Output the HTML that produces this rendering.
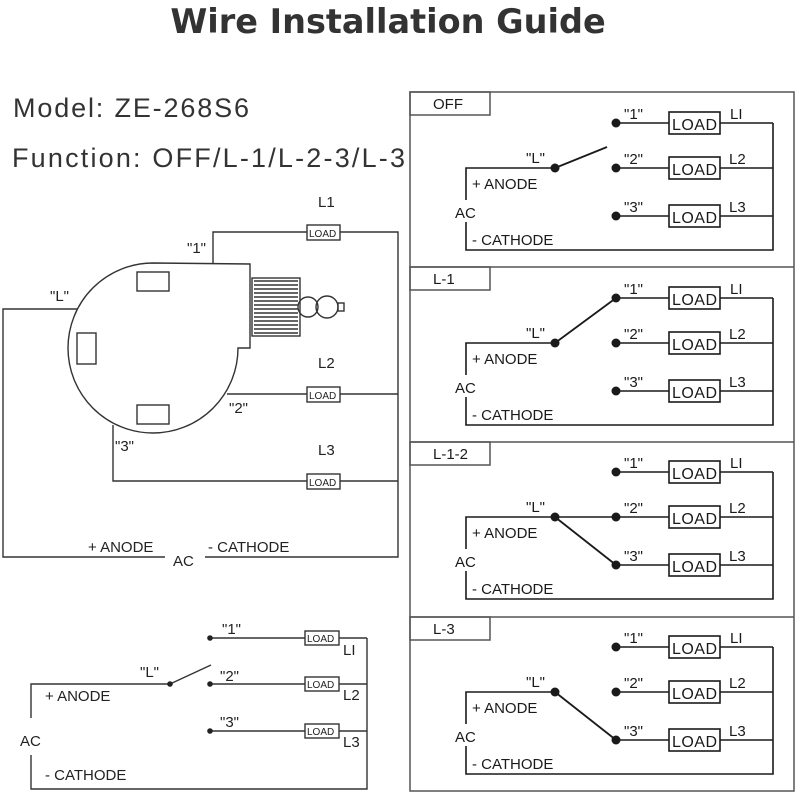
<!DOCTYPE html>
<html><head><meta charset="utf-8"><style>
html,body{margin:0;padding:0;background:#fff;}
svg{display:block;font-family:"Liberation Sans",sans-serif;}
</style></head><body>
<svg width="800" height="800" viewBox="0 0 800 800" xmlns="http://www.w3.org/2000/svg">
<defs>
<g id="panel" stroke="#1a1a1a" fill="none" stroke-width="1.6">
  <line x1="616" y1="123" x2="669" y2="123"/><line x1="616" y1="168" x2="669" y2="168"/><line x1="616" y1="216" x2="669" y2="216"/>
  <line x1="720" y1="123" x2="773" y2="123"/><line x1="720" y1="168" x2="773" y2="168"/><line x1="720" y1="216" x2="773" y2="216"/>
  <rect x="669" y="112" width="51" height="22"/><rect x="669" y="157" width="51" height="22"/><rect x="669" y="205" width="51" height="22"/>
  <polyline points="773,123 773,250 466,250 466,222"/>
  <polyline points="466,200 466,168 555,168"/>
  <g fill="#1a1a1a" stroke="none"><circle cx="616" cy="123" r="4.5"/><circle cx="616" cy="168" r="4.5"/><circle cx="616" cy="216" r="4.5"/><circle cx="555" cy="168" r="4.5"/></g>
  <g fill="#1a1a1a" stroke="none" font-size="16">
    <text x="672" y="130" textLength="45">LOAD</text><text x="672" y="175" textLength="45">LOAD</text><text x="672" y="223" textLength="45">LOAD</text>
    <text x="730" y="119" font-size="15">LI</text><text x="729" y="164" font-size="15">L2</text><text x="729" y="212" font-size="15">L3</text>
    <text x="624" y="119" font-size="15">"1"</text><text x="624" y="164" font-size="15">"2"</text><text x="624" y="212" font-size="15">"3"</text>
    <text x="526" y="163" font-size="15">"L"</text>
    <text x="472" y="189" font-size="15">+ ANODE</text><text x="455" y="218" font-size="15">AC</text><text x="472" y="245" font-size="15">- CATHODE</text>
  </g>
</g>
</defs>
<text x="388" y="33" text-anchor="middle" font-size="33.5" font-weight="bold" fill="#333" font-family="'DejaVu Sans',sans-serif">Wire Installation Guide</text>
<text x="13" y="117" font-size="27" fill="#333" textLength="236">Model: ZE-268S6</text>
<text x="12" y="167" font-size="27" fill="#333" textLength="393">Function: OFF/L-1/L-2-3/L-3</text>

<g stroke="#555" fill="none" stroke-width="1.5">
<rect x="410" y="92" width="384" height="699"/>
<line x1="410" y1="267" x2="794" y2="267"/><line x1="410" y1="442" x2="794" y2="442"/><line x1="410" y1="617" x2="794" y2="617"/>
<rect x="410" y="92" width="80" height="23"/><rect x="410" y="267" width="80" height="23"/><rect x="410" y="442" width="80" height="23"/><rect x="410" y="617" width="80" height="23"/>
</g>
<g font-size="15" fill="#1a1a1a"><text x="433" y="109">OFF</text><text x="433" y="284">L-1</text><text x="433" y="459">L-1-2</text><text x="433" y="634">L-3</text></g>

<use href="#panel"/>
<line x1="555" y1="168" x2="607" y2="147" stroke="#1a1a1a" stroke-width="1.8"/>
<g transform="translate(0,175)"><use href="#panel"/><line x1="555" y1="168" x2="616" y2="123" stroke="#1a1a1a" stroke-width="1.8"/></g>
<g transform="translate(0,349)"><use href="#panel"/><line x1="555" y1="168" x2="616" y2="216" stroke="#1a1a1a" stroke-width="1.8"/><line x1="555" y1="168" x2="616" y2="168" stroke="#1a1a1a" stroke-width="1.6"/></g>
<g transform="translate(0,524)"><use href="#panel"/><line x1="555" y1="168" x2="616" y2="216" stroke="#1a1a1a" stroke-width="1.8"/></g>

<g stroke="#333" fill="none" stroke-width="1.4">
<path d="M153,263 L250,264 L250,348 L238,348 A85,85 0 1,1 153,263"/>
<rect x="137" y="272" width="32" height="19"/><rect x="77" y="333" width="19" height="31"/><rect x="137" y="405" width="32" height="19"/>
<rect x="252" y="278" width="48" height="58"/>
<circle cx="308" cy="307" r="10"/><circle cx="327" cy="307" r="11"/><rect x="338" y="303" width="6" height="8"/>
<polyline points="213,264 213,232 307,232"/><polyline points="340,232 398,232 398,557 205,557"/>
<rect x="307" y="225" width="33" height="15"/>
<line x1="227" y1="394" x2="307" y2="394"/><line x1="340" y1="394" x2="398" y2="394"/><rect x="307" y="387" width="33" height="15"/>
<polyline points="113,425 113,481 307,481"/><line x1="340" y1="481" x2="398" y2="481"/><rect x="307" y="474" width="33" height="15"/>
<polyline points="78,309 3,309 3,557 165,557"/>
</g>
<g stroke="#333" stroke-width="1.6">
<line x1="254" y1="281" x2="298" y2="281"/><line x1="254" y1="285" x2="298" y2="285"/><line x1="254" y1="289" x2="298" y2="289"/><line x1="254" y1="293" x2="298" y2="293"/><line x1="254" y1="297" x2="298" y2="297"/><line x1="254" y1="301" x2="298" y2="301"/><line x1="254" y1="305" x2="298" y2="305"/><line x1="254" y1="309" x2="298" y2="309"/><line x1="254" y1="313" x2="298" y2="313"/><line x1="254" y1="317" x2="298" y2="317"/><line x1="254" y1="321" x2="298" y2="321"/><line x1="254" y1="325" x2="298" y2="325"/><line x1="254" y1="329" x2="298" y2="329"/><line x1="254" y1="333" x2="298" y2="333"/>
</g>
<g fill="#222" font-size="15">
<text x="309" y="237" font-size="10">LOAD</text><text x="309" y="399" font-size="10">LOAD</text><text x="309" y="486" font-size="10">LOAD</text>
<text x="318" y="207">L1</text><text x="318" y="368">L2</text><text x="318" y="455">L3</text>
<text x="187" y="253">"1"</text><text x="229" y="413">"2"</text><text x="115" y="451">"3"</text><text x="50" y="301">"L"</text>
<text x="88" y="552">+ ANODE</text><text x="173" y="566">AC</text><text x="208" y="552">- CATHODE</text>
</g>

<g stroke="#333" fill="none" stroke-width="1.4">
<line x1="210" y1="638" x2="305" y2="638"/><line x1="210" y1="684" x2="305" y2="684"/><line x1="210" y1="731" x2="305" y2="731"/>
<line x1="339" y1="638" x2="367" y2="638"/><line x1="339" y1="684" x2="367" y2="684"/><line x1="339" y1="731" x2="367" y2="731"/>
<rect x="305" y="631" width="34" height="14"/><rect x="305" y="677" width="34" height="14"/><rect x="305" y="724" width="34" height="14"/>
<polyline points="367,638 367,789 31,789 31,755"/><polyline points="31,718 31,684 170,684"/>
<line x1="170" y1="684" x2="211" y2="665"/>
</g>
<g fill="#222"><circle cx="210" cy="638" r="2.8"/><circle cx="210" cy="684" r="2.8"/><circle cx="210" cy="731" r="2.8"/><circle cx="170" cy="684" r="2.8"/></g>
<g fill="#222" font-size="15">
<text x="307" y="642" font-size="10">LOAD</text><text x="307" y="688" font-size="10">LOAD</text><text x="307" y="735" font-size="10">LOAD</text>
<text x="343" y="655">LI</text><text x="343" y="700">L2</text><text x="343" y="747">L3</text>
<text x="222" y="634">"1"</text><text x="220" y="681">"2"</text><text x="220" y="727">"3"</text><text x="140" y="677">"L"</text>
<text x="45" y="701">+ ANODE</text><text x="20" y="746">AC</text><text x="45" y="780">- CATHODE</text>
</g>
</svg>
</body></html>
